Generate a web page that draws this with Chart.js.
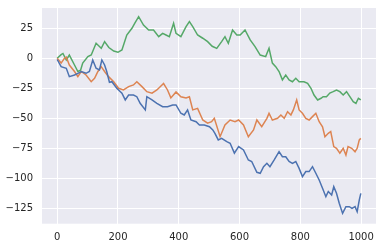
<!DOCTYPE html>
<html>
<head>
<meta charset="utf-8">
<script src="https://cdn.jsdelivr.net/npm/chart.js@4/dist/chart.umd.min.js"></script>
<style>
html,body{margin:0;padding:0;background:#fff;}
#wrap{width:383px;height:251px;position:relative;}
</style>
</head>
<body>
<div id="wrap"><canvas id="c" width="383" height="251"></canvas></div>
<script>
// Values (step index -> value)
const blueSteps = [0,13,30,40,57,68,79,95,106,117,128,139,147,156,163,172,180,196,213,224,235,251,262,273,290,295,312,328,347,363,380,391,407,418,429,440,457,468,484,501,512,519,530,541,558,569,583,597,613,629,640,657,668,679,690,700,714,730,741,752,763,774,785,796,807,818,829,840,851,862,873,884,892,903,910,919,928,939,950,961,970,980,987,994,999];
const blueValues = [-1,-7,-8.3,-15.3,-13.9,-12.5,-11,-12.5,-11,-1.4,-8.3,-9.7,-1.4,-5.6,-11,-20,-19.5,-25,-29,-34.7,-30.6,-30.6,-32,-37.5,-43,-32,-34.7,-37.5,-40.3,-40.3,-38.9,-38.9,-45.8,-47.2,-43,-51.4,-52.8,-55.6,-55.6,-57,-59.7,-62.5,-68,-66.7,-69.5,-70.8,-79,-73.6,-76.4,-84.7,-86,-95,-95.8,-90.3,-87.5,-90.3,-84.7,-77.8,-82,-82,-86,-87.5,-86,-91.7,-98.6,-94.4,-94.4,-90.3,-95.8,-101.4,-108.3,-115.3,-111,-113.9,-107,-112.5,-120.8,-129.2,-123.6,-123.6,-125,-123.6,-127.8,-118,-112.5];

const orangeSteps = [0,13,24,30,40,57,68,79,95,112,123,134,145,156,169,186,202,218,235,251,262,279,295,312,328,350,363,374,391,407,424,435,446,462,479,495,508,517,536,552,569,585,597,613,629,646,657,673,690,697,708,725,736,747,758,769,777,788,796,807,818,829,840,851,862,873,881,892,900,910,919,930,941,950,957,969,980,987,994,999];
const orangeValues = [0,-4,0,1,-5.6,-11,-15.3,-11,-13.9,-19.5,-16.7,-11,-7,-11,-15.3,-19.5,-25,-26.4,-23.6,-22.2,-19.5,-23.6,-27.8,-29,-26.4,-21,-26.4,-33,-28,-32,-33,-32,-43,-41.7,-51.4,-54,-52.8,-50,-65.3,-55.6,-51.4,-52.8,-51.4,-55.6,-65.3,-59.7,-51.4,-57,-50,-45.8,-51.4,-50,-47.2,-50,-44.5,-47.2,-43,-34.7,-43,-45.8,-50,-51.4,-48.6,-45.8,-52.8,-57,-65.3,-62.5,-61,-73.6,-75,-79,-75,-80.6,-73.6,-75,-77.8,-75,-68,-66.7];

const greenSteps = [0,13,19,30,40,57,68,77,84,101,112,128,145,156,170,186,200,213,229,246,255,268,284,301,317,334,347,358,369,383,391,407,424,435,446,462,479,495,510,525,541,552,563,577,591,602,618,635,651,668,686,697,708,719,730,741,752,763,774,785,796,812,824,835,845,857,868,875,886,897,908,919,930,941,952,963,974,983,991,999];
const greenValues = [0,3,4,-1.4,2.7,-5.6,-11,-10,-4,1.4,2.7,12.5,8.3,13.9,9,6,5,7,19.4,25,29,34.7,27.7,23.6,23.6,18,20.8,19.4,18,29.2,20.8,18,26.4,30.5,26.4,19.4,16.7,13.9,10,8.3,13.9,18,12.5,23.6,19.4,19.4,23.6,15.3,9.7,2.7,1.4,8.3,-4,-7,-11,-18,-13.9,-18,-19.5,-16.7,-19.5,-19.5,-20.8,-25,-30.6,-34.7,-33.3,-32,-32,-29,-27.8,-26.4,-27.8,-30.6,-27.8,-32,-36.1,-37.5,-33.3,-34.7];

const xTicks = [0,200,400,600,800,1000];
const yTicks = [-125,-100,-75,-50,-25,0,25];

function pts(xs, ys){ return xs.map((x,i)=>({x:x,y:ys[i]})); }

const bgPlugin = {
  id:'bg',
  beforeDraw(chart){
    const {ctx, chartArea:a} = chart;
    ctx.save();
    ctx.fillStyle = '#EAEAF2';
    ctx.fillRect(a.left, a.top, a.right-a.left, a.bottom-a.top);
    ctx.restore();
  }
};

const tickFont = {family:'DejaVu Sans', size:10};

new Chart(document.getElementById('c'), {
  type:'line',
  data:{
    datasets:[
      {data:pts(blueSteps, blueValues), borderColor:'#4C72B0', borderWidth:1.5, pointRadius:0, tension:0},
      {data:pts(orangeSteps, orangeValues), borderColor:'#DD8452', borderWidth:1.5, pointRadius:0, tension:0},
      {data:pts(greenSteps, greenValues), borderColor:'#55A868', borderWidth:1.5, pointRadius:0, tension:0}
    ]
  },
  options:{
    responsive:false,
    animation:false,
    layout:{padding:{top:8,right:7,left:0,bottom:0}},
    plugins:{legend:{display:false}, tooltip:{enabled:false}},
    scales:{
      x:{
        type:'linear', min:-49.95, max:1048.95,
        afterBuildTicks(s){ s.ticks = xTicks.map(v=>({value:v})); },
        afterFit(s){ s.height = 27.3; s.paddingLeft = 0; s.paddingRight = 0; },
        grid:{color:'#ffffff', lineWidth:1, drawTicks:false},
        border:{display:false},
        ticks:{font:tickFont, color:'#262626', padding:8, maxRotation:0, callback:v=>String(v)}
      },
      y:{
        type:'linear', min:-137.8, max:41.9,
        afterBuildTicks(s){ s.ticks = yTicks.map(v=>({value:v})); },
        afterFit(s){ s.width = 42; s.paddingTop = 0; s.paddingBottom = 0; },
        grid:{color:'#ffffff', lineWidth:1, drawTicks:false},
        border:{display:false},
        ticks:{font:tickFont, color:'#262626', padding:9, callback:v=>(v<0?'\u2212'+Math.abs(v):String(v))}
      }
    }
  },
  plugins:[bgPlugin]
});
</script>
</body>
</html>
